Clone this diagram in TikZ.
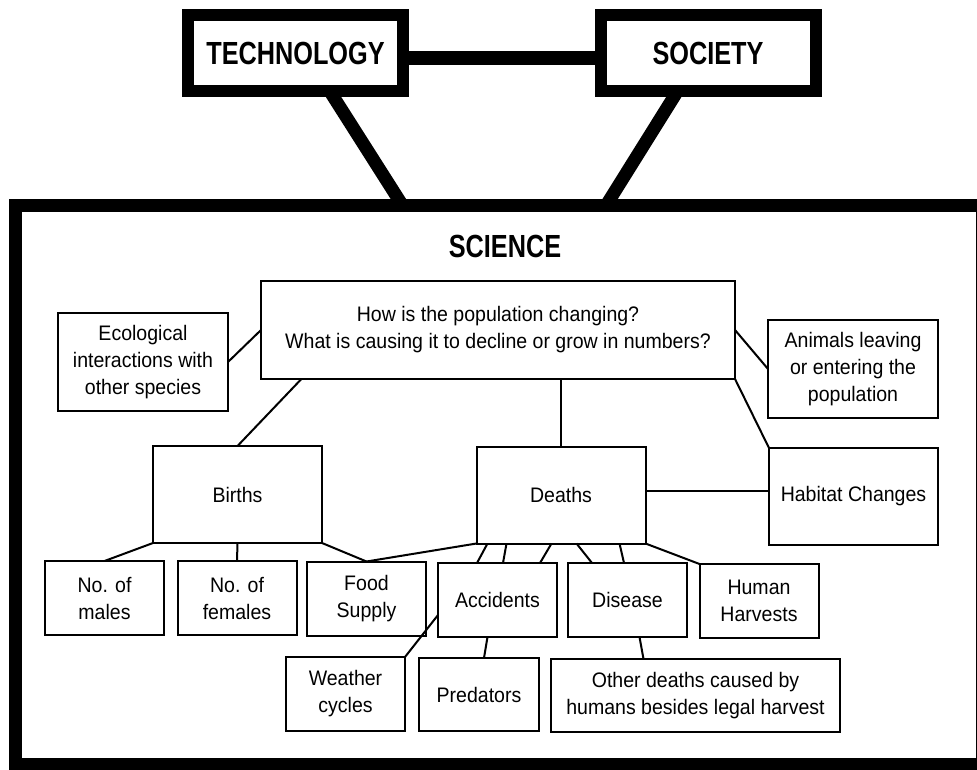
\documentclass[tikz,border=0pt]{standalone}
\usepackage{fontspec}
\setmainfont{Liberation Sans}[FakeStretch=0.93]
\newfontfamily\headfont{Liberation Sans Bold}[FakeStretch=0.79]
\tikzset{
  heavybox/.style={draw, line width=6pt, outer sep=0pt, minimum width=107.5pt, minimum height=38pt,
    font=\headfont\fontsize{16pt}{18pt}\selectfont},
  heavylink/.style={line width=6.5pt},
  topic/.style={draw, line width=1pt, outer sep=0pt, align=center, inner sep=0pt,
    font=\fontsize{10.5pt}{13.5pt}\selectfont},
  sidebox/.style={topic, minimum width=85pt, minimum height=49pt},
  midbox/.style={topic, minimum width=84.5pt, minimum height=48.5pt},
  factor/.style={topic, minimum width=59.5pt, minimum height=37pt},
}
\begin{document}
\begin{tikzpicture}[x=0.5pt,y=-0.5pt,line width=1pt]
\useasboundingbox (0,0) rectangle (977,769);
\node[draw, line width=6.5pt, outer sep=0pt, minimum width=483.25pt, minimum height=279.5pt] (sci) at (498.75,485){};
\node[font=\headfont\fontsize{16pt}{18pt}\selectfont] (scititle) at (505,246){SCIENCE};
\node[heavybox] (tech) at (295.5,53){TECHNOLOGY};
\node[heavybox] (soc) at (708,53.5){SOCIETY};
%
\draw[line width=7pt]([yshift=-2.5pt]tech.east) -- ([yshift=-2.5pt]tech.east -| soc.west);
\draw[heavylink](tech.-48) -- (sci.109);
\draw[heavylink](soc.-129) -- (sci.69);
%
\node[topic, minimum width=237pt, minimum height=49pt] (ques) at (498,330){How is the population changing?\\What is causing it to decline or grow in numbers?};
\node[sidebox] (eco) at (143,362){Ecological\\interactions with\\other species};
\node[sidebox] (anim) at (853,369){Animals leaving\\or entering the\\population};
\node[midbox] (births) at (237.5,494.5){Births};
\node[midbox] (deaths) at (561,495){Deaths};
\node[midbox] (habitat) at (853.5,496.5){Habitat Changes};
%
\node[factor] (males) at (104.5,598){No. of\\males};
\node[factor] (females) at (237,598){No. of\\females};
\node[factor] (food) at (366.5,598.5){Food\\Supply};
\node[factor] (acc) at (497.5,600){Accidents};
\node[factor] (dis) at (627.5,600){Disease};
\node[factor] (human) at (759,601){Human\\Harvests};
\node[factor] (weather) at (345.5,694){Weather\\cycles};
\node[factor, minimum width=60pt, minimum height=36.5pt] (pred) at (479,694.5){Predators};
\node[factor, minimum width=144.5pt, minimum height=36.5pt] (other) at (695.5,695.5){Other deaths caused by\\humans besides legal harvest};
%
\draw(eco.east) -- (ques.west);
\draw(ques.east) -- (anim.west);
\draw(ques.-166) -- (births.north);
\draw(deaths.north) -- (deaths.north |- ques.south);
\draw(ques.south east) -- (habitat.north west);
\draw([yshift=2pt]deaths.east) -- ([yshift=2pt]deaths.east -| habitat.west);
%
\draw(births.south west) -- (males.north);
\draw(births.south) -- (females.north);
\draw(births.south east) -- (food.north);
\draw(deaths.south west) -- (food.north);
\foreach \a/\b in {5.5/19.5,15/32.5,37.5/51}
  \draw([xshift=\a pt]deaths.south west) -- ([xshift=\b pt]acc.north west);
\foreach \a/\b in {50/12,71.5/28}
  \draw([xshift=\a pt]deaths.south west) -- ([xshift=\b pt]dis.north west);
\draw(deaths.south east) -- (human.north west);
%
\draw([yshift=-7.5pt]acc.west) -- (weather.north east);
\draw([xshift=-5pt]acc.south) -- ([xshift=2.5pt]pred.north);
\draw([xshift=6pt]dis.south) -- ([xshift=-26pt]other.north);

\end{tikzpicture}
\end{document}
